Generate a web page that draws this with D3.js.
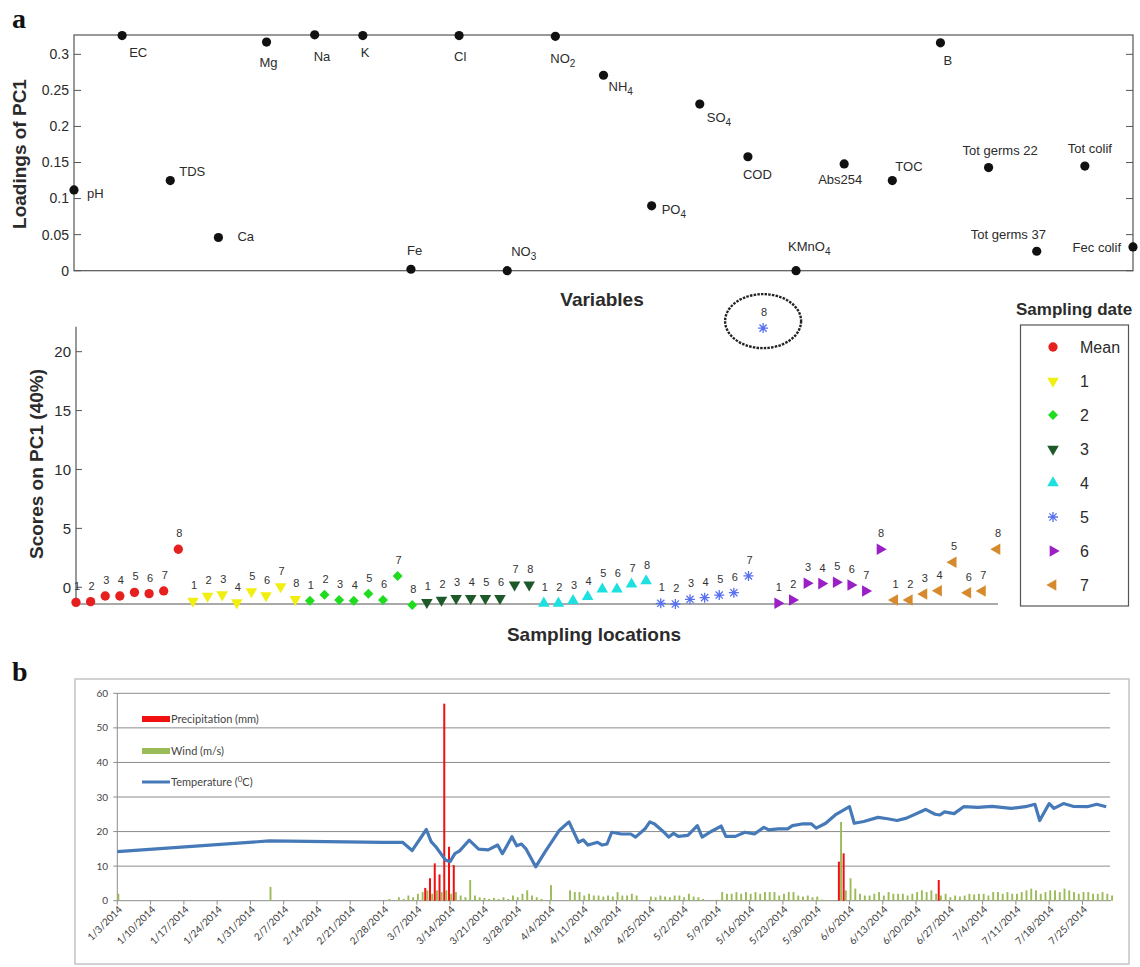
<!DOCTYPE html>
<html>
<head>
<meta charset="utf-8">
<script src="https://cdn.jsdelivr.net/npm/d3@7"></script>
<style>
  body { margin: 0; background: #fff; }
  svg { display: block; font-family: Arial, "Liberation Sans", sans-serif; }
</style>
</head>
<body>
<div id="chart"></div>
<script>
// ---------- panel a (top): loadings of PC1
const variables = ["pH", "EC", "TDS", "Ca", "Mg", "Na", "K", "Fe", "Cl", "NO3", "NO2", "NH4", "PO4", "SO4",
  "COD", "KMnO4", "Abs254", "TOC", "B", "Tot germs 22", "Tot germs 37", "Tot colif", "Fec colif"];
const loadings = [0.112, 0.326, 0.125, 0.046, 0.317, 0.327, 0.326, 0.002, 0.326, 0.0, 0.325, 0.271, 0.090, 0.231,
  0.158, 0.0, 0.148, 0.125, 0.316, 0.143, 0.027, 0.145, 0.033];
const loadingTicks = [0, 0.05, 0.1, 0.15, 0.2, 0.25, 0.3];

// ---------- panel a (bottom): scores on PC1, locations 1-8 for each sampling date
const samplingDates = ["Mean", "1", "2", "3", "4", "5", "6", "7"];
const locations = [1, 2, 3, 4, 5, 6, 7, 8];
const scoresMean = [-1.28, -1.22, -0.74, -0.74, -0.43, -0.54, -0.31, 3.23];
const scoresDate1 = [-1.17, -0.74, -0.63, -1.31, -0.37, -0.71, 0.05, -1.02];
const scoresDate2 = [-1.14, -0.63, -1.08, -1.14, -0.54, -1.08, 0.96, -1.51];
const scoresDate3 = [-1.28, -1.08, -0.94, -0.94, -0.94, -0.94, 0.2, 0.2];
const scoresDate4 = [-1.36, -1.36, -1.14, -0.8, -0.17, -0.17, 0.26, 0.54];
const scoresDate5 = [-1.36, -1.42, -1.02, -0.88, -0.66, -0.46, 0.96, 22.0];
const scoresDate6 = [-1.36, -1.08, 0.34, 0.31, 0.43, 0.2, -0.31, 3.23];
const scoresDate7 = [-1.08, -1.08, -0.57, -0.29, 2.13, -0.46, -0.31, 3.23];
const scoreTicks = [0, 5, 10, 15, 20];

// ---------- panel b: weather
const weekTicks = ["1/3/2014", "1/10/2014", "1/17/2014", "1/24/2014", "1/31/2014", "2/7/2014", "2/14/2014",
  "2/21/2014", "2/28/2014", "3/7/2014", "3/14/2014", "3/21/2014", "3/28/2014", "4/4/2014", "4/11/2014",
  "4/18/2014", "4/25/2014", "5/2/2014", "5/9/2014", "5/16/2014", "5/23/2014", "5/30/2014", "6/6/2014",
  "6/13/2014", "6/20/2014", "6/27/2014", "7/4/2014", "7/11/2014", "7/18/2014", "7/25/2014"];
const weatherTicks = [0, 10, 20, 30, 40, 50, 60];

const tempDates = ["1/3/2014", "2/4/2014", "2/28/2014", "3/4/2014", "3/6/2014", "3/9/2014", "3/10/2014", "3/11/2014",
  "3/13/2014", "3/14/2014", "3/15/2014", "3/16/2014", "3/18/2014", "3/20/2014", "3/22/2014", "3/24/2014",
  "3/25/2014", "3/27/2014", "3/28/2014", "3/29/2014", "3/30/2014", "4/1/2014", "4/3/2014", "4/6/2014",
  "4/8/2014", "4/10/2014", "4/11/2014", "4/12/2014", "4/14/2014", "4/15/2014", "4/16/2014", "4/17/2014",
  "4/19/2014", "4/21/2014", "4/22/2014", "4/24/2014", "4/25/2014", "4/26/2014", "4/28/2014", "4/29/2014",
  "4/30/2014", "5/1/2014", "5/3/2014", "5/5/2014", "5/6/2014", "5/8/2014", "5/10/2014", "5/11/2014",
  "5/13/2014", "5/15/2014", "5/17/2014", "5/19/2014", "5/20/2014", "5/22/2014", "5/24/2014", "5/25/2014",
  "5/27/2014", "5/29/2014", "5/30/2014", "6/1/2014", "6/3/2014", "6/6/2014", "6/7/2014", "6/9/2014",
  "6/12/2014", "6/14/2014", "6/16/2014", "6/18/2014", "6/22/2014", "6/24/2014", "6/25/2014", "6/26/2014",
  "6/28/2014", "6/30/2014", "7/3/2014", "7/6/2014", "7/10/2014", "7/13/2014", "7/15/2014", "7/16/2014",
  "7/18/2014", "7/19/2014", "7/21/2014", "7/23/2014", "7/26/2014", "7/28/2014", "7/30/2014"];
const tempValues = [14.2, 17.3, 16.9, 16.9, 14.5, 20.6, 17.1, 15.6, 11.8, 11.3, 13.6, 14.4, 17.5, 14.9, 14.7, 16.1,
  13.6, 18.5, 15.9, 16.4, 14.9, 9.8, 14.2, 20.4, 22.8, 16.9, 17.6, 16.1, 16.9, 16.1, 16.4, 19.8,
  19.3, 19.3, 18.4, 20.8, 22.8, 22.2, 19.8, 18.4, 19.5, 18.6, 18.9, 21.7, 18.4, 20.1, 21.6, 18.6,
  18.6, 19.8, 19.3, 21.2, 20.5, 20.8, 20.8, 21.7, 22.2, 22.2, 21.0, 22.4, 24.8, 27.2, 22.4, 22.9,
  24.1, 23.7, 23.2, 23.9, 26.4, 25.0, 24.8, 25.7, 25.2, 27.2, 27.0, 27.3, 26.7, 27.2, 27.9, 23.2,
  28.1, 26.7, 28.1, 27.3, 27.2, 27.9, 27.2];

const precipDates = ["3/9/2014", "3/10/2014", "3/11/2014", "3/12/2014", "3/13/2014", "3/14/2014", "3/15/2014",
  "6/4/2014", "6/5/2014", "6/25/2014"];
const precipValues = [3.7, 6.5, 10.8, 7.6, 57, 15.6, 10.3, 11.3, 13.7, 6];

// wind: two early readings, then daily values per month (index = day of month - 1)
const windEarlyDates = ["1/3/2014", "2/4/2014"];
const windEarlyValues = [2, 4];
const windMar = [0.5, 0, 1, 0.5, 1.5, 1, 2, 2.5, 3, 2, 3, 2.5, 3, 2, 2.5, 1.5, 1, 6, 1.5, 1, 0.8, 0.5, 0.8, 0.5, 1,
  0.5, 1.5, 1, 2, 3, 1.5];
const windApr = [1, 0.5, 0, 4.5, 0, 0, 0, 3, 2.5, 2.5, 1.5, 2, 1.5, 1.5, 1.2, 1.5, 1.2, 2.5, 1.5, 1.5, 2, 1.5, 0, 0,
  1.2, 1, 1.5, 1.2, 1, 1.5];
const windMay = [1.5, 1, 2, 1.2, 1, 0.5, 0, 0, 0.3, 2.5, 2, 2, 2.5, 2, 2.5, 2, 2.5, 2, 2.5, 2.5, 2.5, 1.5, 2, 2.5,
  2.5, 1.5, 1.2, 1.5, 1, 1.2, 0.3];
const windJun = [0.2, 0, 0, 22.8, 3, 6.5, 3.5, 2, 1.5, 1.5, 2, 2.5, 1.5, 2.5, 2, 2, 2, 1.5, 2, 2.5, 3, 2.5, 3, 2,
  1.5, 2, 1, 1.5, 1.2, 1.5];
const windJul = [2, 1.8, 2, 2, 1.5, 2.5, 2.5, 2, 2.5, 2, 2, 2.5, 3, 3.5, 3, 2, 2.5, 3, 3, 2.5, 3.5, 3, 2.5, 2, 2.5,
  2.5, 2, 2, 2.5, 2, 1.5];

// ======================================================================
const svg = d3.select("#chart").append("svg")
  .attr("width", 1140)
  .attr("height", 967);

const ink = "#2b2b2b";

// panel letters
svg.append("text").attr("x", 12).attr("y", 28)
  .style("font-family", "'Liberation Serif', 'DejaVu Serif', serif")
  .style("font-weight", "bold").style("font-size", "28px").attr("fill", "#111").text("a");
svg.append("text").attr("x", 12).attr("y", 681)
  .style("font-family", "'Liberation Serif', 'DejaVu Serif', serif")
  .style("font-weight", "bold").style("font-size", "28px").attr("fill", "#111").text("b");

// ---------------- loadings -------------------
const xL = d3.scaleLinear().domain([0, variables.length - 1]).range([74, 1133]);
const yL = d3.scaleLinear().domain([0, 0.3268]).range([270.7, 35]);

const gL = svg.append("g");
gL.append("rect")
  .attr("x", xL(0)).attr("y", yL(0.3268))
  .attr("width", xL(variables.length - 1) - xL(0))
  .attr("height", yL(0) - yL(0.3268))
  .attr("fill", "none").attr("stroke", "#555").attr("stroke-width", 1.2);

loadingTicks.forEach(t => {
  gL.append("line").attr("x1", xL(0)).attr("x2", xL(0) + 7).attr("y1", yL(t)).attr("y2", yL(t))
    .attr("stroke", "#555");
  gL.append("line").attr("x1", xL(variables.length - 1)).attr("x2", xL(variables.length - 1) - 7)
    .attr("y1", yL(t)).attr("y2", yL(t)).attr("stroke", "#555");
  gL.append("text").attr("x", xL(0) - 5).attr("y", yL(t)).attr("dy", "0.35em")
    .attr("text-anchor", "end").style("font-size", "14px").attr("fill", ink).text(t);
});

// label placement next to each dot: [dx, dy(baseline), anchor]
const labelPos = {
  "pH": [13, 8, "start"], "EC": [7, 21, "start"], "TDS": [9, -5, "start"], "Ca": [19, 3, "start"],
  "Mg": [-7, 25, "start"], "Na": [-1, 26, "start"], "K": [-2, 21, "start"], "Fe": [-4, -14, "start"],
  "Cl": [-5, 25, "start"], "NO3": [4, -15, "start"], "NO2": [-5, 27, "start"], "NH4": [5, 16, "start"],
  "PO4": [10, 8, "start"], "SO4": [7, 18, "start"], "COD": [-5, 22, "start"], "KMnO4": [-8, -20, "start"],
  "Abs254": [-26, 20, "start"], "TOC": [3, -10, "start"], "B": [3, 22, "start"],
  "Tot germs 22": [-26, -13, "start"], "Tot germs 37": [-66, -12, "start"], "Tot colif": [-17, -13, "start"],
  "Fec colif": [-12, 5, "end"]
};

variables.forEach((v, i) => {
  const cx = xL(i), cy = yL(loadings[i]);
  gL.append("circle").attr("cx", cx).attr("cy", cy).attr("r", 4.6).attr("fill", "#111");
  const p = labelPos[v];
  const t = gL.append("text").attr("x", cx + p[0]).attr("y", cy + p[1])
    .attr("text-anchor", p[2]).style("font-size", "13px").attr("fill", ink);
  const m = v.match(/^(NO|NH|PO|SO|KMnO)(\d)$/);
  if (m) {
    t.append("tspan").text(m[1]);
    t.append("tspan").attr("dy", 4).style("font-size", "10px").text(m[2]);
  } else {
    t.text(v);
  }
});

svg.append("text").attr("transform", "translate(26,154) rotate(-90)").attr("text-anchor", "middle")
  .style("font-size", "19px").style("font-weight", "bold").attr("fill", ink).text("Loadings of PC1");
svg.append("text").attr("x", 602).attr("y", 306).attr("text-anchor", "middle")
  .style("font-size", "19px").style("font-weight", "bold").attr("fill", ink).text("Variables");

// ---------------- scores -------------------
const scoreSeries = [scoresMean, scoresDate1, scoresDate2, scoresDate3, scoresDate4, scoresDate5, scoresDate6, scoresDate7];
const points = [];
scoreSeries.forEach((vals, gi) => vals.forEach((v, li) => {
  points.push({ date: samplingDates[gi], loc: locations[li], v: v, i: gi * locations.length + li });
}));

const xS = d3.scaleLinear().domain([0, points.length - 1]).range([76, 997]);
const yS = d3.scaleLinear().domain([-1.42, 22.12]).range([604, 326.7]);

const markerStyle = {
  "Mean": { sym: d3.symbolCircle, size: 68, rot: 0, color: "#e5201f" },
  "1": { sym: d3.symbolTriangle, size: 58, rot: 180, color: "#f1ef12" },
  "2": { sym: d3.symbolSquare, size: 50, rot: 45, color: "#1fdc1f" },
  "3": { sym: d3.symbolTriangle, size: 58, rot: 180, color: "#1e5a29" },
  "4": { sym: d3.symbolTriangle, size: 58, rot: 0, color: "#1fe0e0" },
  "5": { sym: null, color: "#5670f0" },
  "6": { sym: d3.symbolTriangle, size: 58, rot: 90, color: "#9a20c6" },
  "7": { sym: d3.symbolTriangle, size: 58, rot: -90, color: "#d68a2d" }
};
const asterisk = "M-5,0H5M0,-5V5M-3.6,-3.6L3.6,3.6M-3.6,3.6L3.6,-3.6";

function addMarker(g, key, x, y) {
  const m = markerStyle[key];
  if (!m.sym) {
    return g.append("path").attr("d", asterisk).attr("transform", `translate(${x},${y})`)
      .attr("fill", "none").attr("stroke", m.color).attr("stroke-width", 1.3);
  }
  return g.append("path").attr("d", d3.symbol(m.sym, m.size)())
    .attr("transform", `translate(${x},${y}) rotate(${m.rot})`).attr("fill", m.color);
}

const gS = svg.append("g");
gS.append("line").attr("x1", xS(0)).attr("x2", xS(0)).attr("y1", yS(-1.42)).attr("y2", yS(22.12))
  .attr("stroke", "#555").attr("stroke-width", 1.2);
gS.append("line").attr("x1", xS(0)).attr("x2", xS(points.length - 1) + 1).attr("y1", yS(-1.42)).attr("y2", yS(-1.42))
  .attr("stroke", "#555").attr("stroke-width", 1.2);
scoreTicks.forEach(t => {
  gS.append("line").attr("x1", xS(0)).attr("x2", xS(0) + 6).attr("y1", yS(t)).attr("y2", yS(t)).attr("stroke", "#555");
  gS.append("text").attr("x", xS(0) - 5).attr("y", yS(t)).attr("dy", "0.35em").attr("text-anchor", "end")
    .style("font-size", "15px").attr("fill", ink).text(t);
});

points.forEach(d => {
  const x = xS(d.i), y = yS(d.v);
  addMarker(gS, d.date, x, y);
  gS.append("text").attr("x", x + 1).attr("y", y - 12).attr("text-anchor", "middle")
    .style("font-size", "11px").attr("fill", "#333").text(d.loc);
});

// highlight of the outlier
const outlier = points.reduce((a, b) => (b.v > a.v ? b : a));
gS.append("ellipse").attr("cx", xS(outlier.i)).attr("cy", yS(outlier.v) - 7).attr("rx", 38).attr("ry", 27)
  .attr("fill", "none").attr("stroke", "#222").attr("stroke-width", 2.4).attr("stroke-dasharray", "2.5,1.2");

svg.append("text").attr("transform", "translate(43,464) rotate(-90)").attr("text-anchor", "middle")
  .style("font-size", "19px").style("font-weight", "bold").attr("fill", ink).text("Scores on PC1 (40%)");
svg.append("text").attr("x", 594).attr("y", 641).attr("text-anchor", "middle")
  .style("font-size", "19px").style("font-weight", "bold").attr("fill", ink).text("Sampling locations");

// legend
const gLeg = svg.append("g");
gLeg.append("text").attr("x", 1016).attr("y", 315).style("font-size", "17px").style("font-weight", "bold")
  .attr("fill", ink).text("Sampling date");
gLeg.append("rect").attr("x", 1020.5).attr("y", 325).attr("width", 108).attr("height", 281)
  .attr("fill", "none").attr("stroke", "#555").attr("stroke-width", 1.2);
samplingDates.forEach((s, k) => {
  const y = 347 + k * 34;
  addMarker(gLeg, s, 1053, y);
  gLeg.append("text").attr("x", 1080).attr("y", y).attr("dy", "0.35em").style("font-size", "16px")
    .attr("fill", ink).text(s);
});

// ---------------- weather -------------------
const parseDate = d3.timeParse("%m/%d/%Y");
const xW = d3.scaleTime().domain([parseDate("1/3/2014"), parseDate("7/31/2014")]).range([117.3, 1111]);
const yW = d3.scaleLinear().domain([0, 60]).range([900.7, 693.3]);

const gW = svg.append("g").style("font-family", "Lato, 'Open Sans', sans-serif");
gW.append("rect").attr("x", 75).attr("y", 679).attr("width", 1054).attr("height", 285)
  .attr("fill", "none").attr("stroke", "#c4c4c4").attr("stroke-width", 1.5);

weatherTicks.forEach(t => {
  gW.append("line").attr("x1", xW.range()[0] - 4).attr("x2", t === 0 ? xW.range()[1] : 1110)
    .attr("y1", yW(t)).attr("y2", yW(t)).attr("stroke", "#8c8c8c").attr("stroke-width", 1);
  gW.append("text").attr("x", 108).attr("y", yW(t)).attr("dy", "0.35em").attr("text-anchor", "end")
    .style("font-size", "10px").attr("fill", "#444").text(t);
});
gW.append("line").attr("x1", xW.range()[0]).attr("x2", xW.range()[0]).attr("y1", yW(60)).attr("y2", yW(0))
  .attr("stroke", "#8c8c8c");

weekTicks.forEach(s => {
  const x = xW(parseDate(s));
  gW.append("line").attr("x1", x).attr("x2", x).attr("y1", yW(0)).attr("y2", yW(0) + 4).attr("stroke", "#8c8c8c");
  gW.append("text").attr("transform", `translate(${x + 3},${yW(0) + 7}) rotate(-45)`)
    .attr("text-anchor", "end").attr("dy", "0.35em").style("font-size", "10px").attr("fill", "#3a3a3a").text(s);
});

// wind bars
const windData = windEarlyDates.map((s, i) => ({ date: parseDate(s), v: windEarlyValues[i] }));
[[3, windMar], [4, windApr], [5, windMay], [6, windJun], [7, windJul]].forEach(([mo, arr]) => {
  arr.forEach((v, k) => windData.push({ date: parseDate(`${mo}/${k + 1}/2014`), v: v }));
});
gW.append("g").selectAll("rect").data(windData.filter(d => d.v > 0)).join("rect")
  .attr("x", d => xW(d.date) + 0.1).attr("width", 1.9)
  .attr("y", d => yW(d.v)).attr("height", d => yW(0) - yW(d.v))
  .attr("fill", "#9bbb59");

// precipitation bars
const precipData = precipDates.map((s, i) => ({ date: parseDate(s), v: precipValues[i] }));
gW.append("g").selectAll("rect").data(precipData).join("rect")
  .attr("x", d => xW(d.date) - 2.1).attr("width", 2)
  .attr("y", d => yW(d.v)).attr("height", d => yW(0) - yW(d.v))
  .attr("fill", "#f01010");

// temperature line
const tempData = tempDates.map((s, i) => ({ date: parseDate(s), v: tempValues[i] }));
gW.append("path").datum(tempData)
  .attr("d", d3.line().x(d => xW(d.date)).y(d => yW(d.v)))
  .attr("fill", "none").attr("stroke", "#4679b8").attr("stroke-width", 3.2).attr("stroke-linejoin", "round");

// legend b
const legB = gW.append("g");
legB.append("rect").attr("x", 142).attr("y", 716).attr("width", 28).attr("height", 6).attr("fill", "#f01010");
legB.append("text").attr("x", 171).attr("y", 719).attr("dy", "0.35em").style("font-size", "11px").attr("fill", "#444")
  .text("Precipitation (mm)");
legB.append("rect").attr("x", 142).attr("y", 748).attr("width", 28).attr("height", 6).attr("fill", "#9bbb59");
legB.append("text").attr("x", 171).attr("y", 751).attr("dy", "0.35em").style("font-size", "11px").attr("fill", "#444")
  .text("Wind (m/s)");
legB.append("line").attr("x1", 142).attr("x2", 170).attr("y1", 782).attr("y2", 782)
  .attr("stroke", "#4679b8").attr("stroke-width", 3);
const tl = legB.append("text").attr("x", 171).attr("y", 782).attr("dy", "0.35em").style("font-size", "11px")
  .attr("fill", "#444");
tl.append("tspan").text("Temperature (");
tl.append("tspan").attr("dy", -4).style("font-size", "8px").text("0");
tl.append("tspan").attr("dy", 4).text("C)");
</script>
</body>
</html>
